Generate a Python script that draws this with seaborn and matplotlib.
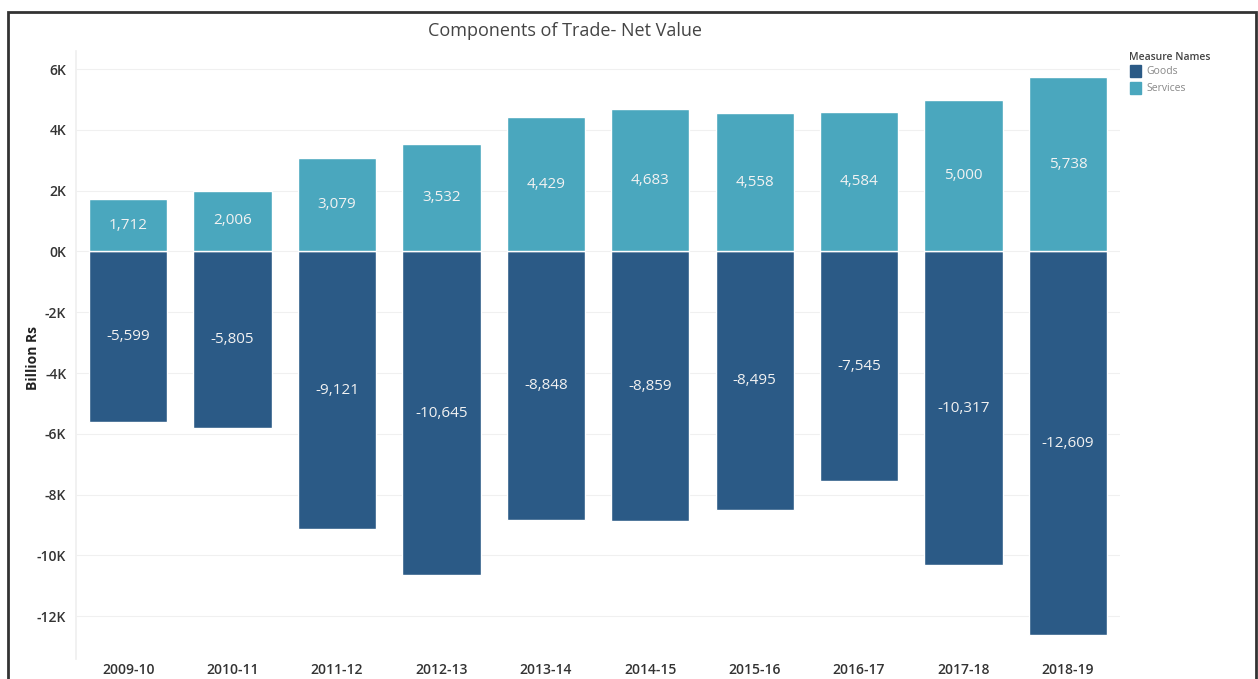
import matplotlib
matplotlib.use("Agg")
import matplotlib.pyplot as plt
from matplotlib.ticker import FuncFormatter, MultipleLocator
from matplotlib.patches import Rectangle
import seaborn as sns
import pandas as pd

# Net trade values, billion Rs
years = ["2009-10", "2010-11", "2011-12", "2012-13", "2013-14",
         "2014-15", "2015-16", "2016-17", "2017-18", "2018-19"]
goods = [-5599, -5805, -9121, -10645, -8848, -8859, -8495, -7545, -10317, -12609]
services = [1712, 2006, 3079, 3532, 4429, 4683, 4558, 4584, 5000, 5738]
measures = ["Goods", "Services"]

df = pd.DataFrame({
    "Year": years * 2,
    "Value": goods + services,
    "Measure Names": [measures[0]] * len(years) + [measures[1]] * len(years),
})

sns.set_theme(style="white")
plt.rcParams["font.family"] = ["Open Sans", "DejaVu Sans"]

palette = {"Goods": "#2b5a86", "Services": "#4aa7be"}

fig = plt.figure(figsize=(12.58, 6.79), dpi=100)
ax = fig.add_axes([0.0604, 0.030, 0.8300, 0.895])

sns.barplot(data=df, x="Year", y="Value", hue="Measure Names", dodge=False,
            palette=palette, width=0.75, ax=ax, legend=False, saturation=1)

for cont in ax.containers:
    ax.bar_label(cont, labels=[f"{v:,.0f}" for v in cont.datavalues],
                 label_type="center", color="#f2f2f2", fontsize=11)

ax.set_ylim(-13400, 6600)
ax.set_xlim(-0.5, len(years) - 0.5)
ax.yaxis.set_major_locator(MultipleLocator(2000))
ax.yaxis.set_major_formatter(FuncFormatter(lambda v, p: f"{v/1000:.0f}K"))
ax.grid(axis="y", color="#f0f0f0", linewidth=0.8)
ax.set_axisbelow(True)
for s in ax.spines.values():
    s.set_visible(False)
ax.spines["left"].set_visible(True)
ax.spines["left"].set_color("#f0f0f0")
ax.tick_params(axis="y", labelsize=10, labelcolor="#333333", length=0, pad=7)
ax.tick_params(axis="x", labelsize=10, labelcolor="#333333", length=0, pad=3)
for t in ax.get_yticklabels() + ax.get_xticklabels():
    t.set_fontweight("semibold")
ax.set_xlabel("")
ax.set_ylabel("Billion Rs", fontsize=10, fontweight="bold", color="#222222")
ax.yaxis.set_label_coords(-0.034, 0.495)

fig.text(0.449, 0.955, "Components of Trade- Net Value", ha="center", va="center",
         fontsize=13, color="#444444")

# Legend
fig.text(0.8975, 0.915, "Measure Names", fontsize=7.5, fontweight="semibold",
         color="#444444", va="center")
for i, m in enumerate(measures):
    y = 0.895 - i * 0.025
    fig.patches.append(Rectangle((0.8985, y - 0.009), 0.0085, 0.018,
                                 transform=fig.transFigure, color=palette[m]))
    fig.text(0.911, y, m, fontsize=7.5, color="#888888", va="center")

# Outer frame
fig.patches.append(Rectangle((0.0063, -0.05), 0.9920, 1.0323, fill=False,
                             transform=fig.transFigure, edgecolor="#333333",
                             linewidth=2))

fig.savefig("out.png", dpi=100)
